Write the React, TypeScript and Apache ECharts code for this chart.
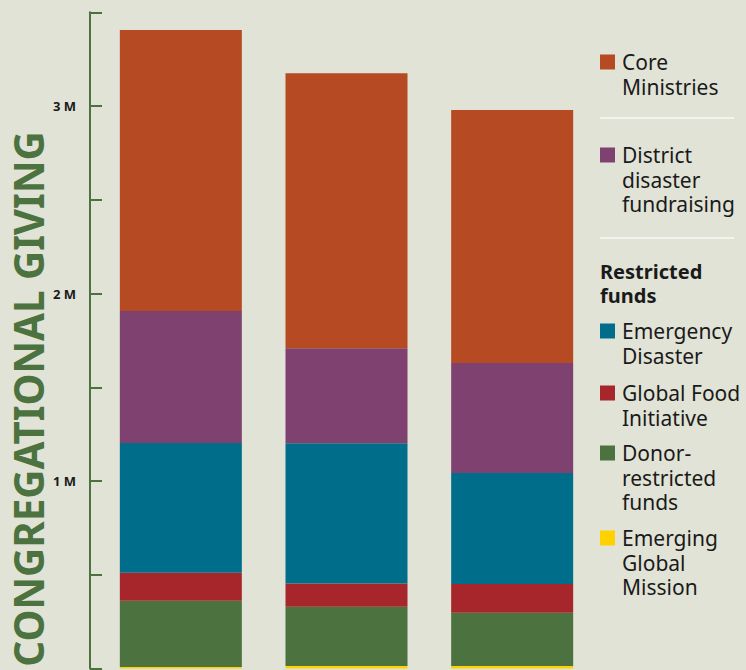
import React, { useEffect, useRef } from "react";
import * as echarts from "echarts";

const categories = ["Year 1", "Year 2", "Year 3"];
const emergingGlobalMission = [0.008, 0.013, 0.013];
const donorRestricted = [0.354, 0.316, 0.285];
const globalFood = [0.149, 0.124, 0.153];
const emergencyDisaster = [0.692, 0.749, 0.592];
const districtDisaster = [0.704, 0.506, 0.586];
const coreMinistries = [1.498, 1.467, 1.35];

const seriesNames = [
  "Emerging Global Mission",
  "Donor-restricted funds",
  "Global Food Initiative",
  "Emergency Disaster",
  "District disaster fundraising",
  "Core Ministries",
];
const seriesData = [
  emergingGlobalMission,
  donorRestricted,
  globalFood,
  emergencyDisaster,
  districtDisaster,
  coreMinistries,
];
const seriesColors = ["#FFD100", "#4C7240", "#A6262C", "#006E8A", "#7E4170", "#B54A23"];

const BG = "#E1E3D6";
const GREEN = "#4C7240";

export default function App() {
  const ref = useRef<HTMLDivElement>(null);
  useEffect(() => {
    if (!ref.current) return;
    const chart = echarts.init(ref.current, null, { renderer: "svg" });
    const font = "'Noto Sans', 'Open Sans', sans-serif";
    const legendItems = [
      { idx: 5, lines: ["Core", "Ministries"], y: 62 },
      { idx: 4, lines: ["District", "disaster", "fundraising"], y: 155 },
      { idx: 3, lines: ["Emergency", "Disaster"], y: 331 },
      { idx: 2, lines: ["Global Food", "Initiative"], y: 393 },
      { idx: 1, lines: ["Donor-", "restricted", "funds"], y: 453 },
      { idx: 0, lines: ["Emerging", "Global", "Mission"], y: 538 },
    ];
    const lh = 24.6;
    const graphic: any[] = [];
    legendItems.forEach((it) => {
      graphic.push({
        type: "rect",
        shape: { x: 600, y: it.y - 7.5, width: 15, height: 15 },
        style: { fill: seriesColors[it.idx] },
      });
      it.lines.forEach((ln, k) => {
        graphic.push({
          type: "text",
          x: 622,
          y: it.y + k * lh,
          style: {
            text: ln,
            fill: "#1a1a1a",
            font: `21px ${font}`,
            align: "left",
            verticalAlign: "middle",
          },
        });
      });
    });
    ["Restricted", "funds"].forEach((ln, k) => {
      graphic.push({
        type: "text",
        x: 600,
        y: 271 + k * lh,
        style: {
          text: ln,
          fill: "#1a1a1a",
          font: `bold 20px ${font}`,
          align: "left",
          verticalAlign: "middle",
        },
      });
    });
    [118, 238].forEach((yy) => {
      graphic.push({
        type: "line",
        shape: { x1: 600, y1: yy, x2: 734, y2: yy },
        style: { stroke: "#F3F4EE", lineWidth: 2 },
      });
    });
    graphic.push({
      type: "text",
      x: 28,
      y: 399,
      rotation: Math.PI / 2,
      scaleX: 0.96,
      style: {
        text: "CONGREGATIONAL GIVING",
        fill: GREEN,
        font: `bold 42px ${font}`,
        align: "center",
        verticalAlign: "middle",
      },
    });

    chart.setOption({
      animation: false,
      backgroundColor: BG,
      grid: { left: 98, right: 151, top: 12.25, bottom: 1.5 },
      xAxis: {
        type: "category",
        data: categories,
        axisLine: { show: false },
        axisTick: { show: false },
        axisLabel: { show: false },
      },
      yAxis: {
        type: "value",
        min: 0,
        max: 3.5,
        interval: 0.5,
        offset: 8,
        splitLine: { show: false },
        axisLine: { show: true, lineStyle: { color: GREEN, width: 2 } },
        axisTick: { show: true, inside: true, length: 12, lineStyle: { color: GREEN, width: 2 } },
        axisLabel: {
          margin: 14,
          color: "#1a1a1a",
          fontWeight: "bold",
          fontSize: 13,
          fontFamily: font,
          formatter: (v: number) => (v > 0 && Math.abs(v - Math.round(v)) < 1e-6 ? `${v} M` : ""),
        },
      },
      series: seriesNames.map((name, i) => ({
        name,
        type: "bar",
        stack: "total",
        data: seriesData[i],
        barWidth: 122,
        itemStyle: { color: seriesColors[i] },
      })),
      graphic,
    });
    return () => chart.dispose();
  }, []);
  return (
    <div
      ref={ref}
      style={{ position: "absolute", left: 0, top: 0, width: 746, height: 670, background: BG }}
    />
  );
}
